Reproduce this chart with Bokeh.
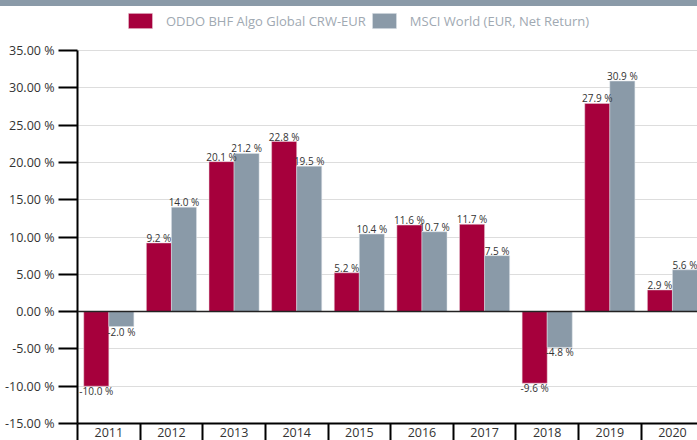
from bokeh.plotting import figure
from bokeh.models import (ColumnDataSource, Range1d, FixedTicker, PrintfTickFormatter,
                          Span, Legend, LegendItem, CustomJSTickFormatter, Div)
from bokeh.layouts import column
from bokeh.embed import file_html
from bokeh.resources import INLINE

years = ["2011", "2012", "2013", "2014", "2015", "2016", "2017", "2018", "2019", "2020"]
fund = [-10.0, 9.2, 20.1, 22.8, 5.2, 11.6, 11.7, -9.6, 27.9, 2.9]
msci = [-2.0, 14.0, 21.2, 19.5, 10.4, 10.7, 7.5, -4.8, 30.9, 5.6]
fund_name = "ODDO BHF Algo Global CRW-EUR"
msci_name = "MSCI World (EUR, Net Return)"
y_ticks = [-15, -10, -5, 0, 5, 10, 15, 20, 25, 30, 35]

RED = "#a6003c"
GREY = "#8a9aa8"
FONT = "Open Sans"

idx = list(range(len(years)))


def make_src(vals, off):
    xs = [i + off for i in idx]
    labels = ["{:.1f} %".format(v) for v in vals]
    base = ["bottom" if v >= 0 else "top" for v in vals]
    yoff = [2 if v >= 0 else -2 for v in vals]
    return ColumnDataSource(dict(x=xs, top=vals, label=labels, ly=vals, base=base, yoff=yoff))


src_f = make_src(fund, -0.2)
src_m = make_src(msci, 0.2)

BAND = 6
W, H = 697, 440 - BAND
BOTTOM, LEFT = 17, 77
FRAME_H = H - BOTTOM          # frame spans from the top of the figure
Y0, Y1 = -15, 35
TOP_GAP = 44                  # pixels between frame top and the 35 % line
px_per_unit = (FRAME_H - TOP_GAP) / (Y1 - Y0)
y_end = Y1 + TOP_GAP / px_per_unit

band = Div(text="", width=W, height=BAND, margin=0,
           styles={"background-color": GREY})

p = figure(width=W, height=H, output_backend="svg", toolbar_location=None,
           x_range=Range1d(-0.5, 9.4), y_range=Range1d(Y0, y_end),
           min_border_left=LEFT, min_border_right=0, min_border_top=0,
           min_border_bottom=BOTTOM, margin=0)
p.outline_line_color = None
p.background_fill_color = "white"
p.border_fill_color = "white"

r1 = p.vbar(x="x", top="top", bottom=0, width=0.4, source=src_f,
            fill_color=RED, line_color="#e8d0d8", line_width=0.5)
r2 = p.vbar(x="x", top="top", bottom=0, width=0.4, source=src_m,
            fill_color=GREY, line_color="#dde3e8", line_width=0.5)

for src in (src_f, src_m):
    p.text(x="x", y="ly", text="label", source=src, text_align="center",
           text_baseline="base", y_offset="yoff", text_font_size="10px",
           text_color="#333333", text_font={"value": FONT})

p.add_layout(Span(location=0, dimension="width", line_color="#222222", line_width=1.5))

# axes
p.yaxis.ticker = FixedTicker(ticks=y_ticks)
p.yaxis.bounds = (Y0, Y1)
p.yaxis.formatter = PrintfTickFormatter(format="%.2f %%")
p.yaxis.major_tick_out = 19
p.yaxis.major_tick_in = 0
p.yaxis.minor_tick_out = 0
p.yaxis.minor_tick_in = 0
p.yaxis.major_tick_line_width = 2
p.yaxis.major_tick_line_color = "black"
p.yaxis.axis_line_width = 2
p.yaxis.axis_line_color = "black"
p.yaxis.major_label_standoff = 4
p.yaxis.major_label_text_font_size = "12.5px"
p.yaxis.major_label_text_color = "#333333"
p.yaxis.major_label_text_font = FONT

p.xaxis.ticker = FixedTicker(ticks=idx, minor_ticks=[i + 0.5 for i in idx] + [-0.5])
p.xaxis.formatter = CustomJSTickFormatter(args=dict(labels=years),
                                          code="return labels[Math.round(tick)] || '';")
p.xaxis.major_tick_out = 0
p.xaxis.major_tick_in = 0
p.xaxis.minor_tick_out = 17
p.xaxis.minor_tick_in = 0
p.xaxis.minor_tick_line_width = 2
p.xaxis.minor_tick_line_color = "black"
p.xaxis.axis_line_width = 2
p.xaxis.axis_line_color = "black"
p.xaxis.major_label_standoff = -13
p.xaxis.major_label_text_font_size = "12.5px"
p.xaxis.major_label_text_color = "#333333"
p.xaxis.major_label_text_font = FONT

p.xgrid.visible = False
p.ygrid.ticker = FixedTicker(ticks=y_ticks)
p.ygrid.grid_line_color = "#dddddd"
p.ygrid.grid_line_width = 1

legend = Legend(items=[LegendItem(label=fund_name, renderers=[r1]),
                       LegendItem(label=msci_name, renderers=[r2])],
                orientation="horizontal", location=(48, FRAME_H - 24),
                padding=0, margin=0, spacing=3, label_standoff=11,
                glyph_width=30, glyph_height=19, label_height=19,
                label_text_font_size="13px", label_text_color="#a0a9b2",
                label_text_font=FONT, border_line_color=None,
                background_fill_alpha=0)
p.add_layout(legend)

layout = column(band, p, spacing=0, margin=0)
open("out.html", "w").write(file_html(layout, INLINE))
